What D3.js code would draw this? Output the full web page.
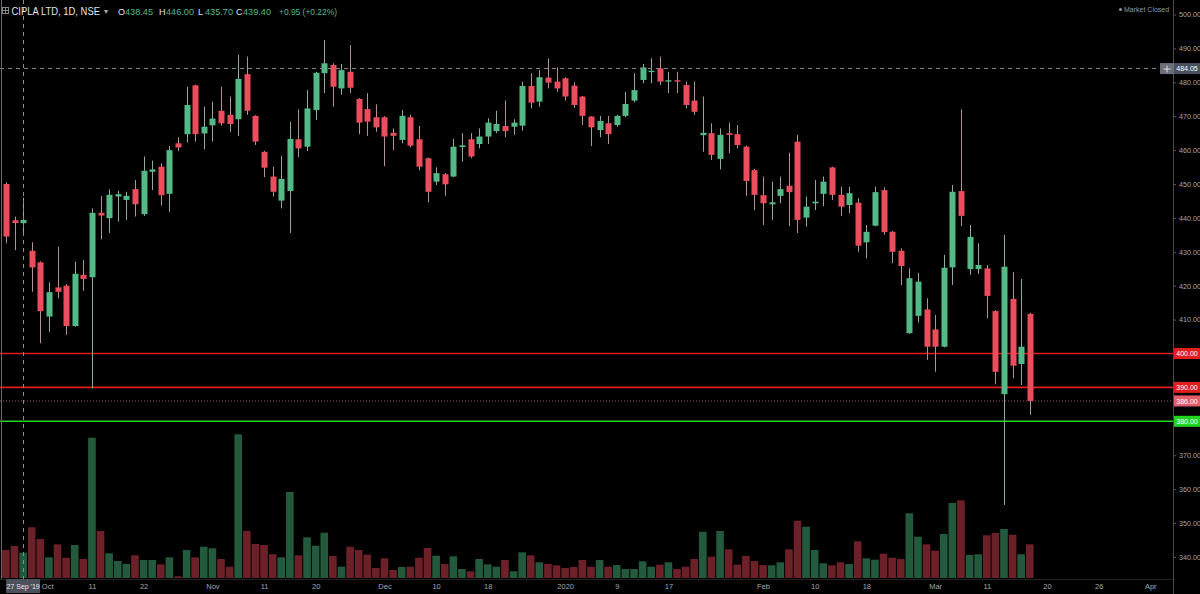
<!DOCTYPE html>
<html><head><meta charset="utf-8">
<script src="https://cdn.jsdelivr.net/npm/d3@7/dist/d3.min.js"></script>
<style>html,body{margin:0;padding:0;background:#000;overflow:hidden}</style>
</head><body>
<svg id="c" width="1200" height="594"></svg>
<script>
// ---- data ----
const opens=[450.0,439.3,438.45,430.3,426.9,410.9,419.5,420.0,408.1,423.2,
422.5,441.5,439.9,446.3,445.3,448.5,441.1,453.6,455.1,447.1,
462.0,464.7,479.1,464.9,467.3,471.6,470.4,469.1,482.4,470.1,
459.5,452.2,445.1,447.9,463.2,461.0,471.8,482.7,485.1,478.2,
483.1,475.1,472.1,469.7,469.7,465.1,463.0,469.7,463.2,457.6,
450.7,452.9,452.2,460.9,463.2,461.8,464.0,465.6,467.1,466.9,
467.2,478.9,474.3,481.4,480.2,481.2,479.0,475.8,469.9,465.9,
467.9,467.4,470.1,474.6,480.7,483.0,484.1,480.2,480.6,479.2,
474.6,464.4,465.0,457.4,465.0,464.7,461.0,454.1,446.7,444.0,
446.5,449.5,462.5,440.1,444.3,447.1,454.9,446.8,443.8,444.5,
432.8,437.7,448.2,435.9,430.3,406.0,411.1,413.0,407.1,402.0,
425.4,447.9,424.9,424.9,425.1,412.5,388.0,416.1,396.9,411.7];
const highs=[450.5,440.4,446.0,432.8,427.2,421.0,431.5,420.5,427.1,427.6,
442.8,446.5,448.4,448.0,447.7,451.2,458.1,456.9,456.1,461.2,
463.8,478.7,479.3,472.8,474.3,478.7,475.8,488.1,487.6,470.3,
459.8,455.1,458.3,468.4,472.0,477.7,483.1,492.5,485.6,485.4,
491.0,475.3,476.8,473.5,470.0,466.4,471.8,470.4,467.1,457.8,
454.9,453.2,463.3,465.0,465.0,466.4,469.4,471.6,474.6,469.1,
480.2,482.7,483.6,487.1,484.4,481.5,480.0,476.0,470.0,470.1,
470.1,470.4,477.2,482.7,485.4,487.1,487.6,483.1,483.1,480.2,
480.2,475.8,467.9,466.4,468.1,467.4,461.3,454.5,452.2,450.7,
452.2,459.2,464.5,446.3,451.2,452.2,455.1,449.2,449.2,445.8,
437.9,449.2,449.0,436.2,431.0,425.1,423.8,416.3,411.4,429.1,
449.7,472.0,437.9,432.5,426.1,412.8,435.0,424.0,422.0,412.0];
const lows=[432.5,430.5,435.7,418.2,403.0,406.4,416.3,405.5,407.9,418.5,
389.7,433.7,435.5,438.9,439.4,440.4,440.6,448.2,443.6,441.8,
459.7,462.2,462.5,460.2,462.5,467.2,465.3,464.2,470.4,461.5,
452.0,446.3,442.8,435.5,457.9,459.7,468.9,476.8,472.8,476.3,
476.8,464.7,464.2,465.4,455.3,460.0,462.0,460.8,454.1,444.6,
449.7,446.5,452.0,456.6,457.6,460.5,461.8,465.0,463.8,464.5,
465.7,472.3,472.8,478.2,477.2,474.6,472.5,467.4,461.2,463.8,
461.8,466.9,469.7,474.1,479.7,479.7,479.2,476.8,476.8,472.3,
470.4,459.5,457.1,454.3,459.1,460.5,446.5,442.3,437.9,439.4,
444.3,437.6,435.5,437.4,442.3,443.5,445.3,440.6,441.4,430.0,
428.1,437.5,435.0,426.6,420.2,405.8,409.1,398.1,394.6,401.8,
420.2,437.6,423.2,423.5,410.4,390.9,355.3,392.7,390.7,381.9];
const closes=[434.5,438.5,439.4,425.4,412.5,418.1,418.2,408.1,423.5,422.0,
441.5,440.7,446.8,447.0,446.5,444.0,453.9,454.3,446.7,460.0,
460.8,473.3,464.7,466.9,469.3,467.9,467.7,481.0,471.6,462.5,
454.8,447.7,451.5,463.3,460.5,472.3,482.8,485.6,478.7,483.6,
478.4,468.1,468.4,466.7,464.0,464.2,470.1,461.3,455.1,447.7,
453.2,449.9,461.0,461.4,458.1,464.0,468.1,467.7,465.6,468.1,
478.9,474.0,481.5,479.9,478.2,475.8,473.3,470.1,466.7,468.6,
464.7,470.1,473.6,477.7,484.4,483.4,480.2,480.6,480.2,473.3,
471.3,465.1,458.6,464.5,464.5,461.5,450.9,446.8,444.3,444.6,
448.5,447.6,439.4,443.3,444.8,450.7,446.8,443.3,447.3,431.8,
435.9,447.6,435.8,430.0,425.8,422.2,421.2,402.0,402.0,425.3,
447.7,440.6,434.4,426.1,417.0,394.6,425.6,396.4,402.0,386.0];
const volumes=[2.80,3.20,2.53,5.07,3.90,2.07,3.37,2.03,3.30,1.90,
14.03,4.70,2.47,1.70,1.40,2.27,1.80,1.80,1.37,2.07,
0.17,2.80,2.07,3.13,2.97,1.90,1.13,14.37,4.70,3.40,
3.30,2.37,2.07,8.60,2.27,4.07,3.23,4.53,2.20,1.13,
3.13,2.80,2.33,1.00,1.97,0.80,1.10,1.13,2.03,3.00,
2.23,1.40,2.17,0.90,0.67,1.90,1.37,1.13,1.80,0.67,
2.57,2.27,1.57,1.40,1.27,1.00,1.10,1.80,1.13,1.80,
1.13,1.30,0.90,0.90,1.67,1.13,1.33,1.57,0.90,1.13,
1.90,4.63,2.13,4.70,2.87,1.33,2.20,1.70,1.30,1.27,
1.57,2.87,5.73,5.13,2.80,1.47,1.27,1.57,1.40,3.67,
1.97,1.83,2.43,2.03,1.90,6.47,4.13,3.37,2.73,4.40,
7.50,7.77,2.30,2.37,4.27,4.50,4.90,4.33,2.37,3.37];
const timeTickLabels=["Oct","11","22","Nov","11","20","Dec","10","18","2020","9","17","Feb","10","18","Mar","11","20","26","Apr"];
const timeTickBars=[4,10,16,24,30,36,44,50,56,65,71,77,88,94,100,108,114,121,127,133];
const priceTicks=[500,490,480,470,460,450,440,430,420,410,370,360,350,340];
const levelPrices=[400,390,380];
const levelColors=["#e11d1d","#e11d1d","#22d422"];
const lastPrice=386.00;
const crossPrice=484.05;
const crossBar=2;
const crossDate="27 Sep '19";
const headerValues=["438.45","446.00","435.70","439.40"];
const headerKeys=["O","H","L","C"];
const headerChange="+0.95 (+0.22%)";

// ---- drawing ----
const W=1200,H=594,axisX=1173;
const svg=d3.select("#c");
svg.append("rect").attr("width",W).attr("height",H).attr("fill","#000");
const x=d3.scaleLinear().domain([0,119]).range([5.9,1029.8]);
const y=d3.scaleLinear().domain([340,490]).range([556.9,48.4]);
const yv=d3.scaleLinear().domain([0,10]).range([578,478]);
const up="#53b987",down="#eb4d5c";
const n=opens.length;
const idx=d3.range(n);
const FONT="'Liberation Sans', Arial, sans-serif";

const plot=svg.append("g");
plot.append("clipPath").attr("id","pc").append("rect").attr("x",0).attr("y",0).attr("width",axisX).attr("height",579);
const pg=plot.append("g").attr("clip-path","url(#pc)");

svg.append("line").attr("x1",1.5).attr("x2",1.5).attr("y1",0).attr("y2",579).attr("stroke","#6a6a6a").attr("stroke-width",1);

// volume bars
pg.append("g").selectAll("rect").data(idx).join("rect")
  .attr("x",i=>x(i)-3.8).attr("width",7.6)
  .attr("y",i=>yv(volumes[i])).attr("height",i=>yv(0)-yv(volumes[i]))
  .attr("fill",i=>closes[i]>=opens[i]?"#235a3e":"#6c2028");

// level lines
pg.append("g").selectAll("line").data(levelPrices).join("line")
  .attr("x1",0).attr("x2",axisX).attr("y1",d=>y(d)).attr("y2",d=>y(d))
  .attr("stroke",(d,i)=>levelColors[i]).attr("stroke-width",1.6);
pg.append("line").attr("x1",0).attr("x2",axisX).attr("y1",y(lastPrice)).attr("y2",y(lastPrice))
  .attr("stroke","#a8535c").attr("stroke-width",1).attr("stroke-dasharray","1,2");

// wicks
pg.append("g").selectAll("line").data(idx).join("line")
  .attr("x1",i=>Math.round(x(i))+0.5).attr("x2",i=>Math.round(x(i))+0.5)
  .attr("y1",i=>y(highs[i])).attr("y2",i=>y(lows[i]))
  .attr("stroke",i=>closes[i]>=opens[i]?"#8fa99a":"#b09295").attr("stroke-width",1);
// bodies
pg.append("g").selectAll("rect").data(idx).join("rect")
  .attr("x",i=>Math.round(x(i))+0.5-3).attr("width",6)
  .attr("y",i=>y(Math.max(opens[i],closes[i])))
  .attr("height",i=>Math.max(1.2,Math.abs(y(opens[i])-y(closes[i]))))
  .attr("fill",i=>closes[i]>=opens[i]?up:down);

// crosshair
pg.append("line").attr("x1",0).attr("x2",axisX).attr("y1",y(crossPrice)).attr("y2",y(crossPrice))
  .attr("stroke","#8a8a8a").attr("stroke-width",1).attr("stroke-dasharray","4,4");
pg.append("line").attr("x1",Math.round(x(crossBar))+0.5).attr("x2",Math.round(x(crossBar))+0.5).attr("y1",0).attr("y2",579)
  .attr("stroke","#8a8a8a").attr("stroke-width",1).attr("stroke-dasharray","4,4");

// right price axis
const ay=svg.append("g").attr("transform",`translate(${axisX},0)`)
  .call(d3.axisRight(y).tickValues(priceTicks).tickFormat(d3.format(".2f")).tickSize(3).tickPadding(3));
ay.select(".domain").remove();
ay.selectAll(".tick line").attr("stroke","#555");
ay.selectAll(".tick text").attr("fill","#a3a6af").style("font-family",FONT).style("font-size","7.2px");
svg.append("line").attr("x1",axisX+0.5).attr("x2",axisX+0.5).attr("y1",0).attr("y2",594).attr("stroke","#4a4a4a");

// bottom time axis
const ax=svg.append("g").attr("transform","translate(0,579)")
  .call(d3.axisBottom(x).tickValues(timeTickBars).tickFormat((d,i)=>timeTickLabels[i]).tickSize(0).tickPadding(5));
ax.select(".domain").attr("stroke","#222").attr("d",`M0,0.5H${axisX}`);
ax.selectAll(".tick text").attr("fill","#a3a6af").style("font-family",FONT).style("font-size","7.5px");
// first label sits just right of the crosshair date box
ax.selectAll(".tick text").filter((d,i)=>i===0).attr("text-anchor","start").attr("x",1);

// level labels
const labs=[...levelPrices.map((p,i)=>({p,c:levelColors[i]})),{p:lastPrice,c:"#e35d6b"}];
const lg=svg.append("g").selectAll("g").data(labs).join("g").attr("transform",d=>`translate(${axisX+1},${y(d.p)})`);
lg.append("rect").attr("x",0).attr("y",-5.5).attr("width",26).attr("height",11).attr("fill",d=>d.c);
lg.append("text").attr("x",13).attr("y",2.6).attr("text-anchor","middle").attr("fill","#fff")
  .style("font-family",FONT).style("font-size","7px").text(d=>d3.format(".2f")(d.p));

// crosshair price label
const cg=svg.append("g").attr("transform",`translate(1160,${y(crossPrice)})`);
cg.append("rect").attr("x",0).attr("y",-5.5).attr("width",14).attr("height",11).attr("fill","#6b6f7a");
cg.append("rect").attr("x",14).attr("y",-5.5).attr("width",26).attr("height",11).attr("fill","#4c505b");
cg.append("path").attr("d","M3.5,0.5H10.5M7,-3V4").attr("stroke","#ddd").attr("stroke-width",1);
cg.append("text").attr("x",27).attr("y",2.6).attr("text-anchor","middle").attr("fill","#fff")
  .style("font-family",FONT).style("font-size","7px").text(d3.format(".2f")(crossPrice));

// crosshair date label
const dg=svg.append("g").attr("transform",`translate(${x(crossBar)},586)`);
dg.append("rect").attr("x",-17).attr("y",-7).attr("width",34).attr("height",14).attr("fill","#4c505b");
dg.append("text").attr("x",0).attr("y",2.5).attr("text-anchor","middle").attr("fill","#e8e8e8")
  .style("font-family",FONT).style("font-size","7px").text(crossDate);

// header
const hd=svg.append("g").style("font-family",FONT).style("font-size","10px");
hd.append("rect").attr("x",2.5).attr("y",7.5).attr("width",6).attr("height",6).attr("fill","none").attr("stroke","#888");
hd.append("path").attr("d","M5.5,8V13M3,10.5H8").attr("stroke","#888");
hd.append("text").attr("x",11.5).attr("y",15).attr("fill","#e0e3eb").attr("textLength",88.5).attr("lengthAdjust","spacingAndGlyphs").text("CIPLA LTD, 1D, NSE");
hd.append("text").attr("x",104).attr("y",14).attr("fill","#aaa").style("font-size","8px").text("▾");
const keyX=[118,159,198,236];
headerKeys.forEach((k,i)=>{
  hd.append("text").attr("x",keyX[i]).attr("y",15).attr("fill","#e0e3eb").style("font-size","9px").text(k);
  hd.append("text").attr("x",keyX[i]+7).attr("y",15).attr("fill",up).style("font-size","9px")
    .attr("textLength",28).attr("lengthAdjust","spacingAndGlyphs").text(headerValues[i]);
});
hd.append("text").attr("x",279).attr("y",15).attr("fill",up).style("font-size","9px")
  .attr("textLength",58).attr("lengthAdjust","spacingAndGlyphs").text(headerChange);

// market closed
svg.append("circle").attr("cx",1120.5).attr("cy",9.5).attr("r",1.5).attr("fill","#9598a1");
svg.append("text").attr("x",1124).attr("y",12).attr("fill","#9598a1").style("font-family",FONT).style("font-size","7px").text("Market Closed");
</script>
</body></html>
